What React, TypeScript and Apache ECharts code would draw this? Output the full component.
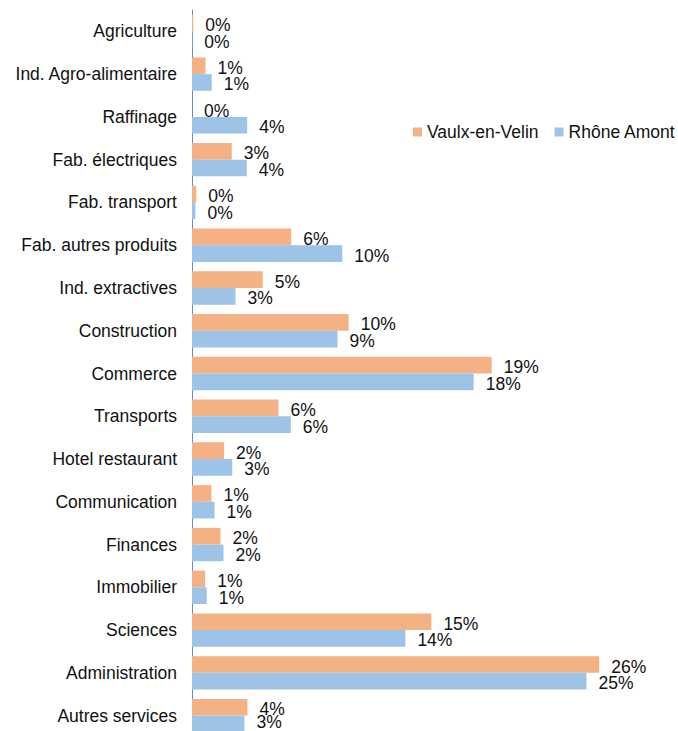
import React, { useEffect, useRef } from "react";
import * as echarts from "echarts";

const categories = [
  "Agriculture",
  "Ind. Agro-alimentaire",
  "Raffinage",
  "Fab. électriques",
  "Fab. transport",
  "Fab. autres produits",
  "Ind. extractives",
  "Construction",
  "Commerce",
  "Transports",
  "Hotel restaurant",
  "Communication",
  "Finances",
  "Immobilier",
  "Sciences",
  "Administration",
  "Autres services",
];

const vaulxValues = [
  0.08, 0.86, 0.0, 2.54, 0.27, 6.33, 4.52, 10.0, 19.13, 5.52, 2.05, 1.24, 1.82, 0.84, 15.28, 25.99, 3.54,
];

const rhoneValues = [
  0.02, 1.26, 3.52, 3.5, 0.22, 9.59, 2.78, 9.29, 17.98, 6.31, 2.57, 1.44, 2.01, 0.94, 13.62, 25.18, 3.35,
];

const seriesNames = ["Vaulx-en-Velin", "Rhône Amont"];

const FONT = "Liberation Sans, Arial, sans-serif";

export default function App() {
  const ref = useRef<HTMLDivElement>(null);

  useEffect(() => {
    if (!ref.current) return;
    const chart = echarts.init(ref.current, undefined, { renderer: "svg" });
    const labelCfg = {
      show: true,
      position: "right" as const,
      distance: 12,
      offset: [0, 2],
      fontSize: 17.5,
      fontFamily: FONT,
      color: "#111",
      formatter: (p: any) => Math.round(p.value) + "%",
    };
    const lastIdx = rhoneValues.length - 1;
    const rhoneData = rhoneValues.map((v, i) =>
      i === lastIdx ? { value: v, label: { offset: [0, -2] } } : v
    );
    chart.setOption({
      animation: false,
      backgroundColor: "#ffffff",
      textStyle: { fontFamily: FONT },
      legend: {
        data: seriesNames,
        orient: "horizontal",
        left: 408,
        top: 118,
        width: 300,
        padding: 5,
        icon: "rect",
        itemWidth: 9,
        itemHeight: 9,
        itemGap: 16,
        textStyle: { fontSize: 17.5, color: "#111", fontFamily: FONT },
      },
      grid: { left: 192, top: 10, width: 470, height: 727, containLabel: false },
      xAxis: {
        type: "value",
        min: 0,
        max: 30,
        show: false,
        splitLine: { show: false },
      },
      yAxis: {
        type: "category",
        data: categories,
        inverse: true,
        axisLine: { show: true, lineStyle: { color: "#5b8fcf", width: 1 } },
        axisTick: { show: false },
        axisLabel: {
          fontSize: 17.5,
          color: "#111",
          fontFamily: FONT,
          margin: 15,
        },
      },
      series: [
        {
          name: seriesNames[0],
          type: "bar",
          data: vaulxValues,
          barGap: "0%",
          barCategoryGap: "22%",
          itemStyle: { color: "#F4B183" },
          label: labelCfg,
        },
        {
          name: seriesNames[1],
          type: "bar",
          data: rhoneData,
          barGap: "0%",
          barCategoryGap: "22%",
          itemStyle: { color: "#9DC3E6" },
          label: labelCfg,
        },
      ],
    });
    return () => chart.dispose();
  }, []);

  return (
    <div
      style={{
        position: "absolute",
        left: 0,
        top: 0,
        width: 678,
        height: 731,
        overflow: "hidden",
        background: "#fff",
      }}
    >
      <div ref={ref} style={{ width: 678, height: 745 }} />
    </div>
  );
}
